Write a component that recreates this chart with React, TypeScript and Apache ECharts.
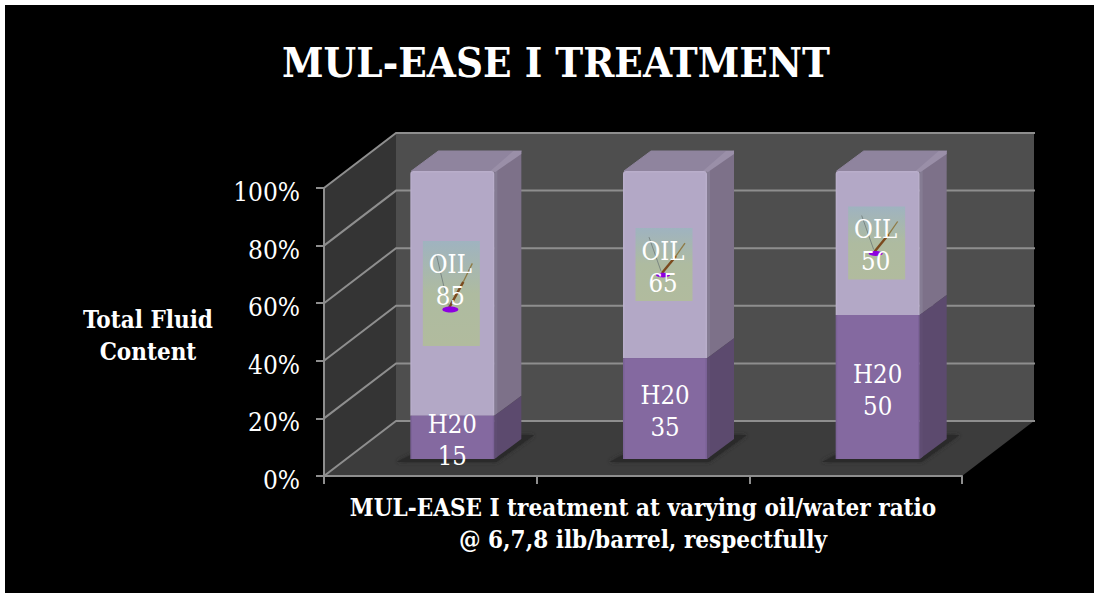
import React, { useEffect, useRef } from "react";
import * as echarts from "echarts";

const categories = ["6 lb/barrel", "7 lb/barrel", "8 lb/barrel"];
const water = [15, 35, 50];
const oil = [85, 65, 50];
const yTicks = [0, 20, 40, 60, 80, 100];

const FONT = '"DejaVu Serif Condensed", "DejaVu Serif", serif';
const WALL = { dx: 72, dy: -55 };
const BAR = { ox: 22, oy: -17, w: 84, dx: 27, dy: -20 };
const LINE = "#8e8e8e";

function renderWalls(params: any, api: any) {
  const c = params.coordSys;
  const x0 = c.x, x1 = c.x + c.width, yb = c.y + c.height;
  const dx = WALL.dx, dy = WALL.dy;
  const poly = (points: number[][], fill: string) => ({ type: "polygon", shape: { points }, style: { fill } });
  const children: any[] = [
    poly([[x0 + dx, c.y + dy], [x1 + dx, c.y + dy], [x1 + dx, yb + dy], [x0 + dx, yb + dy]], "#4e4e4e"),
    poly([[x0, c.y], [x0 + dx, c.y + dy], [x0 + dx, yb + dy], [x0, yb]], "#343434"),
    poly([[x0, yb], [x1, yb], [x1 + dx, yb + dy], [x0 + dx, yb + dy]], "#3c3c3c"),
  ];
  yTicks.forEach((t) => {
    const y = api.coord([0, t])[1];
    children.push({
      type: "polyline",
      shape: { points: [[x0, y], [x0 + dx, y + dy], [x1 + dx + 1, y + dy]] },
      style: { stroke: LINE, lineWidth: 2, fill: "none" },
    });
  });
  return { type: "group", children };
}

function renderShadow(params: any, api: any) {
  const cx = api.coord([api.value(0), 0])[0] + BAR.ox;
  const y = api.coord([0, 0])[1] + BAR.oy;
  const hw = BAR.w / 2;
  return {
    type: "polygon",
    shape: {
      points: [
        [cx - hw - 14, y + 3],
        [cx - hw, y - 4],
        [cx + hw + 27, y - 24],
        [cx + hw + 40, y - 24],
        [cx + hw + 2, y + 3],
      ],
    },
    style: { fill: "#2a2a2a", shadowBlur: 4, shadowColor: "#2a2a2a" },
  };
}

function barFaces(api: any, from: number, to: number, front: string, edge: string, side: string, sideEdge: string, withTop: boolean) {
  const base = api.coord([api.value(0), 0]);
  const cx = base[0] + BAR.ox;
  const yOf = (v: number) => api.coord([0, v])[1] + BAR.oy;
  const yBot = yOf(from);
  const yTop = yOf(to);
  const l = cx - BAR.w / 2, r = cx + BAR.w / 2;
  const children: any[] = [];
  children.push({
    type: "polygon",
    shape: { points: [[r, yBot], [r + BAR.dx, yBot + BAR.dy], [r + BAR.dx, yTop + BAR.dy], [r, yTop]] },
    style: { fill: side },
  });
  children.push({
    type: "polygon",
    shape: { points: [[r, yBot], [r + 3, yBot - 2.2], [r + 3, yTop - 2.2], [r, yTop]] },
    style: { fill: sideEdge },
  });
  if (withTop) {
    children.push({
      type: "polygon",
      shape: { points: [[l + 1, yTop], [l + BAR.dx + 1, yTop + BAR.dy], [r + BAR.dx, yTop + BAR.dy], [r, yTop]] },
      style: { fill: "#8f849e", stroke: "#8f849e", lineWidth: 1, lineJoin: "round" },
    });
    children.push({
      type: "polygon",
      shape: { points: [[r - 4, yTop], [r + BAR.dx - 8, yTop + BAR.dy], [r + BAR.dx, yTop + BAR.dy], [r + BAR.dx, yTop + BAR.dy + 3], [r + 1, yTop + 1]] },
      style: { fill: "#9a8fa8" },
    });
  }
  children.push({
    type: "rect",
    shape: { x: l, y: yTop, width: BAR.w, height: yBot - yTop, r: withTop ? [3, 3, 0, 0] : 0 },
    style: { fill: edge },
  });
  children.push({
    type: "rect",
    shape: { x: l + 1.5, y: yTop + (withTop ? 1.5 : 0), width: BAR.w - 3, height: yBot - yTop - (withTop ? 1.5 : 0) },
    style: { fill: front },
  });
  return children;
}

const textEl = (text: string, x: number, y: number) => ({
  type: "text",
  z2: 20,
  style: {
    text,
    x,
    y,
    fill: "#ffffff",
    font: `25.5px ${FONT}`,
    lineHeight: 32,
    align: "center",
    verticalAlign: "middle",
  },
});

function renderWater(params: any, api: any) {
  const i = api.value(0);
  const from = api.value(1), to = api.value(2);
  const children = barFaces(api, from, to, "#8469a0", "#7b6297", "#5c4a6e", "#5f4d72", false);
  const cx = api.coord([i, 0])[0] + BAR.ox;
  const mid = api.coord([0, (from + to) / 2])[1] + BAR.oy;
  children.push(textEl(`H20\n${water[i]}`, cx, mid + 2.5));
  return { type: "group", children };
}

function renderOil(params: any, api: any) {
  const i = api.value(0);
  const from = api.value(1), to = api.value(2);
  const children = barFaces(api, from, to, "#b3a8c6", "#b9aecb", "#7d7189", "#857c93", true);
  const cx = api.coord([i, 0])[0] + BAR.ox;
  const mid = api.coord([0, (from + to) / 2])[1] + BAR.oy;
  const tall = i === 0;
  const tileH = tall ? 105 : 73;
  const tileW = 57;
  children.push({
    type: "rect",
    z2: 5,
    shape: { x: cx - tileW / 2 - 1, y: mid - tileH / 2, width: tileW, height: tileH },
    style: {
      fill: new echarts.graphic.LinearGradient(0, 0, 0, 1, [
        { offset: 0, color: "#9fb3c0" },
        { offset: 0.5, color: "#aebba0" },
        { offset: 1, color: "#b1bb9e" },
      ]),
    },
  });
  const ey = mid + (tall ? 16 : 10.5);
  const ex = cx - 2;
  children.push({
    type: "line",
    z2: 6,
    shape: { x1: ex - 14, y1: ey - (tall ? 55 : 38), x2: ex - 2, y2: ey - 4 },
    style: { stroke: "#6f7a78", lineWidth: 0.8 },
  });
  const topY = tall ? 46 : 32;
  children.push({
    type: "line",
    z2: 6,
    shape: { x1: ex - 1, y1: ey - 2, x2: ex + 13, y2: ey - topY * 0.6 },
    style: { stroke: "#7b4a1e", lineWidth: 2.4 },
  });
  children.push({
    type: "line",
    z2: 6,
    shape: { x1: ex + 13, y1: ey - topY * 0.6, x2: ex + 22, y2: ey - topY },
    style: { stroke: "#8f7a45", lineWidth: 1.3 },
  });
  children.push({
    type: "ellipse",
    z2: 7,
    shape: { cx: ex, cy: ey, rx: tall ? 8 : 7, ry: tall ? 3 : 2.4 },
    style: { fill: "#8d00e0" },
  });
  children.push(textEl(`OIL\n${oil[i]}`, cx - 2, tall ? mid - 13.5 : mid + 2));
  return { type: "group", children };
}

export default function App() {
  const ref = useRef<HTMLDivElement>(null);
  useEffect(() => {
    const chart = echarts.init(ref.current!, null, { renderer: "svg" });
    const axisStyle = { lineStyle: { color: LINE, width: 2 } };
    chart.setOption({
      animation: false,
      backgroundColor: "#ffffff",
      graphic: [
        { type: "rect", z: -10, shape: { x: 5, y: 5, width: 1089, height: 588 }, style: { fill: "#000000" } },
        {
          type: "text",
          z: 10,
          x: 148,
          y: 335,
          style: {
            text: "Total Fluid\nContent",
            fill: "#ffffff",
            font: `bold 24px ${FONT}`,
            lineHeight: 32,
            align: "center",
            verticalAlign: "middle",
          },
        },
      ],
      title: {
        text: "MUL-EASE I TREATMENT",
        left: 551,
        top: 36,
        textAlign: "center",
        textStyle: { color: "#ffffff", fontFamily: FONT, fontWeight: "bold", fontSize: 41.7 },
      },
      grid: { left: 324, right: 132, top: 188, bottom: 117 },
      xAxis: {
        type: "category",
        data: categories,
        z: 5,
        axisLine: axisStyle,
        axisTick: { show: true, length: 8, alignWithLabel: false, lineStyle: { color: LINE, width: 2 } },
        axisLabel: { show: false },
        name: "MUL-EASE I treatment at varying oil/water ratio\n@ 6,7,8 ilb/barrel, respectfully",
        nameLocation: "middle",
        nameGap: 15,
        nameTextStyle: { color: "#ffffff", fontFamily: FONT, fontWeight: "bold", fontSize: 24, lineHeight: 32, align: "center" },
      },
      yAxis: {
        type: "value",
        min: 0,
        max: 100,
        interval: 20,
        z: 5,
        splitLine: { show: false },
        axisLine: { show: true, ...axisStyle },
        axisTick: { show: true, length: 8, lineStyle: { color: LINE, width: 2 } },
        axisLabel: {
          formatter: "{value}%",
          color: "#ffffff",
          fontFamily: FONT,
          fontSize: 26,
          margin: 24,
          verticalAlign: "top",
          lineHeight: 8,
        },
      },
      series: [
        { type: "custom", silent: true, z: 1, clip: false, renderItem: renderWalls, data: [[0, 0]], encode: { x: 0, y: 1 } },
        { type: "custom", silent: true, z: 2, clip: false, renderItem: renderShadow, data: categories.map((_, i) => [i, 0]), encode: { x: 0, y: 1 } },
        { type: "custom", silent: true, z: 3, clip: false, renderItem: renderOil, data: oil.map((v, i) => [i, water[i], water[i] + v]), encode: { x: 0, y: [1, 2] } },
        { type: "custom", silent: true, z: 4, clip: false, renderItem: renderWater, data: water.map((v, i) => [i, 0, v]), encode: { x: 0, y: [1, 2] } },
      ],
    });
    return () => chart.dispose();
  }, []);
  return <div ref={ref} style={{ position: "absolute", left: 0, top: 0, width: 1094, height: 593 }} />;
}
